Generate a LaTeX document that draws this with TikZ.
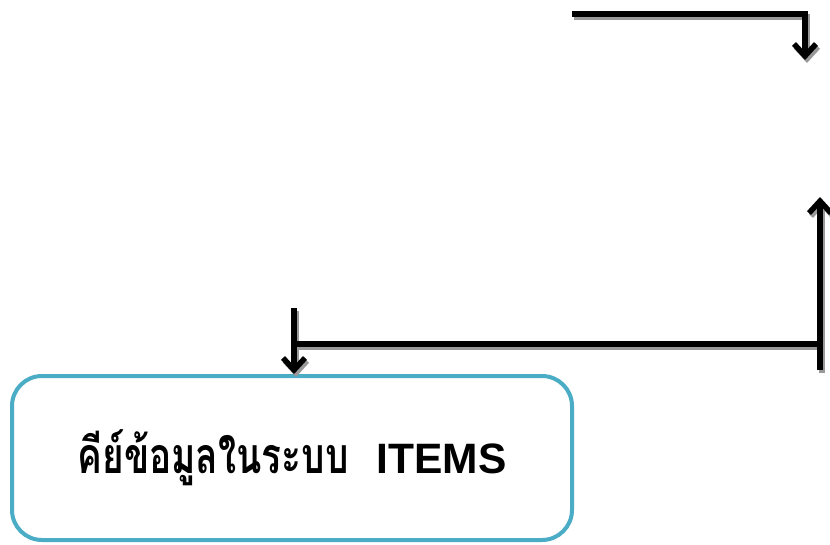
\documentclass[tikz,border=0pt]{standalone}
\usepackage{fontspec}
\newfontfamily\thaifont[Script=Thai,FakeStretch=0.74]{Loma}
\newfontfamily\latinsans{Liberation Sans}
\usetikzlibrary{arrows.meta}
\begin{document}
\begin{tikzpicture}[x=1pt,y=-1pt,
  tipv/.tip={Straight Barb[length=12pt,width=22pt]},
  conn/.style={line width=5.5pt, draw=black, -tipv},
  plain/.style={line width=5.5pt, draw=black},
  shad/.style={line width=5.5pt, draw=black!40, transform canvas={shift={(2pt,-3pt)}}},
  shadarr/.style={shad, -tipv},
  procbox/.style={draw={rgb,255:red,75;green,172;blue,198}, line width=4pt, rounded corners=30pt,
    minimum width=560pt, minimum height=164pt, fill=white}]
\useasboundingbox (0,0) rectangle (830,544);
% coordinates
\coordinate (t1) at (572,14);
\coordinate (t2) at (805,14);
\coordinate (t3) at (805,60);
\coordinate (r1) at (820,370);
\coordinate (r2) at (820,197);
\coordinate (h1) at (820,344);
\coordinate (h2) at (294,344);
\coordinate (v1) at (294,308);
\node[procbox] (items) at (292,458) {\raisebox{-10pt}{{\thaifont\bfseries\fontsize{50}{56}\selectfont คีย์ข้อมูลในระบบ}\hspace{28pt}{\latinsans\bfseries\fontsize{42.5}{50}\selectfont ITEMS}}};
\coordinate (v2) at (items.north -| v1);
% shadows
\draw[shadarr] (t1) -- (t2) -- (t3);
\draw[shadarr] (r1) -- (r2);
\draw[shad] (h1) -- (h2);
\draw[shadarr] (v1) -- (v2);
% lines
\draw[conn] (t1) -- (t2) -- (t3);
\draw[conn] (r1) -- (r2);
\draw[plain] (h1) -- (h2);
\draw[conn] (v1) -- (v2);
\end{tikzpicture}
\end{document}
